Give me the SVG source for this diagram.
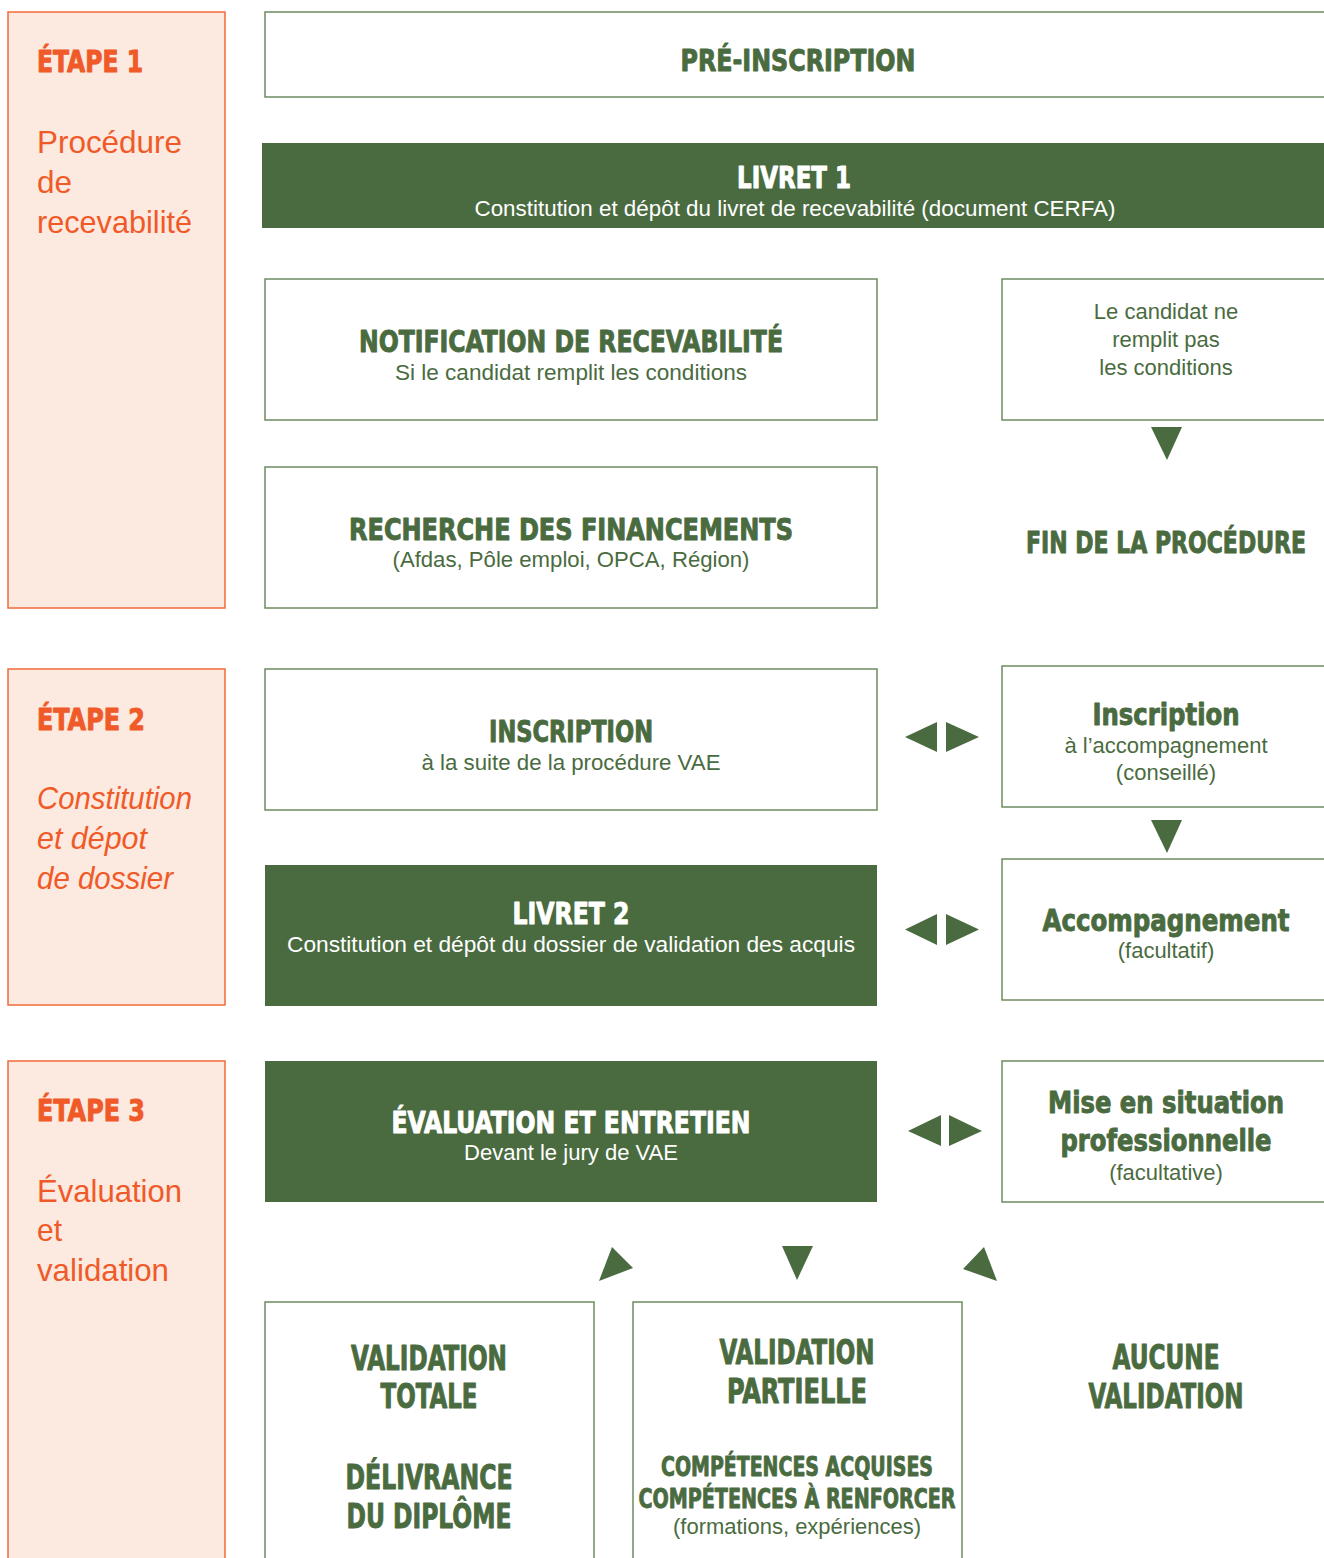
<svg xmlns="http://www.w3.org/2000/svg" width="1324" height="1558" viewBox="0 0 1324 1558">
<style>
.stage{fill:#FCE9DF;stroke:#F26A3B;stroke-width:1.5}
.box{fill:#FFFFFF;stroke:#6C8C62;stroke-width:1.5}
.dark{fill:#4A6B40;stroke:none}
.tri{fill:#4A6B40}
.h{font-family:"Liberation Sans Narrow","DejaVu Sans Condensed","DejaVu Sans",sans-serif;font-weight:bold;text-anchor:middle;fill:#4A6B40;stroke:#4A6B40;stroke-width:0.9;stroke-linejoin:round}
.hw{fill:#FFFFFF;stroke:#FFFFFF}
.b{font-family:"Liberation Sans",Arial,sans-serif;font-size:22px;text-anchor:middle;fill:#4A6B40}
.bw{fill:#FFFFFF}
.sh{font-family:"Liberation Sans Narrow","DejaVu Sans Condensed","DejaVu Sans",sans-serif;font-weight:bold;font-size:30px;fill:#F05A28;stroke:#F05A28;stroke-width:0.9;stroke-linejoin:round}
.st{font-family:"Liberation Sans",Arial,sans-serif;font-size:32px;fill:#F05A28}
.it{font-style:italic}
</style>

<g id="etape1">
<rect class="stage" x="8" y="12" width="217" height="596"/>
<text class="sh" x="37" y="72" textLength="106" lengthAdjust="spacingAndGlyphs">ÉTAPE 1</text>
<text class="st" x="37" y="153" textLength="145" lengthAdjust="spacingAndGlyphs">Procédure</text>
<text class="st" x="37" y="193" textLength="35" lengthAdjust="spacingAndGlyphs">de</text>
<text class="st" x="37" y="233" textLength="155" lengthAdjust="spacingAndGlyphs">recevabilité</text>
</g>

<g id="etape2">
<rect class="stage" x="8" y="669" width="217" height="336"/>
<text class="sh" x="37" y="730" textLength="108" lengthAdjust="spacingAndGlyphs">ÉTAPE 2</text>
<text class="st it" x="37" y="809" textLength="155" lengthAdjust="spacingAndGlyphs">Constitution</text>
<text class="st it" x="37" y="849" textLength="110" lengthAdjust="spacingAndGlyphs">et dépot</text>
<text class="st it" x="37" y="889" textLength="136" lengthAdjust="spacingAndGlyphs">de dossier</text>
</g>

<g id="etape3">
<rect class="stage" x="8" y="1061" width="217" height="510"/>
<text class="sh" x="37" y="1121" textLength="108" lengthAdjust="spacingAndGlyphs">ÉTAPE 3</text>
<text class="st" x="37" y="1202" textLength="145" lengthAdjust="spacingAndGlyphs">Évaluation</text>
<text class="st" x="37" y="1241" textLength="25" lengthAdjust="spacingAndGlyphs">et</text>
<text class="st" x="37" y="1281" textLength="132" lengthAdjust="spacingAndGlyphs">validation</text>
</g>

<g id="pre-inscription">
<rect class="box" x="265" y="12" width="1070" height="85"/>
<text class="h" x="798" y="71" font-size="30" textLength="235" lengthAdjust="spacingAndGlyphs">PRÉ-INSCRIPTION</text>
</g>

<g id="livret1">
<rect class="dark" x="262" y="143" width="1070" height="85"/>
<text class="h hw" x="794" y="188" font-size="30" textLength="114" lengthAdjust="spacingAndGlyphs">LIVRET 1</text>
<text class="b bw" x="795" y="216" textLength="641" lengthAdjust="spacingAndGlyphs">Constitution et dépôt du livret de recevabilité (document CERFA)</text>
</g>

<g id="notification">
<rect class="box" x="265" y="279" width="612" height="141"/>
<text class="h" x="571" y="352" font-size="30" textLength="424" lengthAdjust="spacingAndGlyphs">NOTIFICATION DE RECEVABILITÉ</text>
<text class="b" x="571" y="380" textLength="352" lengthAdjust="spacingAndGlyphs">Si le candidat remplit les conditions</text>
</g>

<g id="non-conditions">
<rect class="box" x="1002" y="279" width="340" height="141"/>
<text class="b" x="1166" y="319">Le candidat ne</text>
<text class="b" x="1166" y="347">remplit pas</text>
<text class="b" x="1166" y="375">les conditions</text>
</g>

<g id="recherche">
<rect class="box" x="265" y="467" width="612" height="141"/>
<text class="h" x="571" y="540" font-size="30" textLength="444" lengthAdjust="spacingAndGlyphs">RECHERCHE DES FINANCEMENTS</text>
<text class="b" x="571" y="567" textLength="357" lengthAdjust="spacingAndGlyphs">(Afdas, Pôle emploi, OPCA, Région)</text>
</g>

<g id="fin">
<text class="h" x="1166" y="553" font-size="30" textLength="280" lengthAdjust="spacingAndGlyphs">FIN DE LA PROCÉDURE</text>
</g>

<g id="inscription">
<rect class="box" x="265" y="669" width="612" height="141"/>
<text class="h" x="571" y="742" font-size="30" textLength="164" lengthAdjust="spacingAndGlyphs">INSCRIPTION</text>
<text class="b" x="571" y="770" textLength="299" lengthAdjust="spacingAndGlyphs">à la suite de la procédure VAE</text>
</g>

<g id="inscription-accompagnement">
<rect class="box" x="1002" y="666" width="340" height="141"/>
<text class="h" x="1166" y="725" font-size="31" textLength="147" lengthAdjust="spacingAndGlyphs">Inscription</text>
<text class="b" x="1166" y="753">à l’accompagnement</text>
<text class="b" x="1166" y="780">(conseillé)</text>
</g>

<g id="livret2">
<rect class="dark" x="265" y="865" width="612" height="141"/>
<text class="h hw" x="571" y="924" font-size="30" textLength="117" lengthAdjust="spacingAndGlyphs">LIVRET 2</text>
<text class="b bw" x="571" y="952" textLength="568" lengthAdjust="spacingAndGlyphs">Constitution et dépôt du dossier de validation des acquis</text>
</g>

<g id="accompagnement">
<rect class="box" x="1002" y="859" width="340" height="141"/>
<text class="h" x="1166" y="931" font-size="31" textLength="247" lengthAdjust="spacingAndGlyphs">Accompagnement</text>
<text class="b" x="1166" y="958">(facultatif)</text>
</g>

<g id="evaluation">
<rect class="dark" x="265" y="1061" width="612" height="141"/>
<text class="h hw" x="571" y="1133" font-size="30" textLength="359" lengthAdjust="spacingAndGlyphs">ÉVALUATION ET ENTRETIEN</text>
<text class="b bw" x="571" y="1160" textLength="214" lengthAdjust="spacingAndGlyphs">Devant le jury de VAE</text>
</g>

<g id="mise-en-situation">
<rect class="box" x="1002" y="1061" width="340" height="141"/>
<text class="h" x="1166" y="1113" font-size="31" textLength="236" lengthAdjust="spacingAndGlyphs">Mise en situation</text>
<text class="h" x="1166" y="1151" font-size="31" textLength="211" lengthAdjust="spacingAndGlyphs">professionnelle</text>
<text class="b" x="1166" y="1180">(facultative)</text>
</g>

<g id="validation-totale">
<rect class="box" x="265" y="1302" width="329" height="270"/>
<text class="h" x="429" y="1370" font-size="33" textLength="156" lengthAdjust="spacingAndGlyphs">VALIDATION</text>
<text class="h" x="429" y="1408" font-size="33" textLength="97" lengthAdjust="spacingAndGlyphs">TOTALE</text>
<text class="h" x="429" y="1489" font-size="33" textLength="167" lengthAdjust="spacingAndGlyphs">DÉLIVRANCE</text>
<text class="h" x="429" y="1528" font-size="33" textLength="165" lengthAdjust="spacingAndGlyphs">DU DIPLÔME</text>
</g>

<g id="validation-partielle">
<rect class="box" x="633" y="1302" width="329" height="270"/>
<text class="h" x="797" y="1364" font-size="33" textLength="155" lengthAdjust="spacingAndGlyphs">VALIDATION</text>
<text class="h" x="797" y="1403" font-size="33" textLength="140" lengthAdjust="spacingAndGlyphs">PARTIELLE</text>
<text class="h" x="797" y="1476" font-size="27" textLength="272" lengthAdjust="spacingAndGlyphs">COMPÉTENCES ACQUISES</text>
<text class="h" x="797" y="1508" font-size="27" textLength="317" lengthAdjust="spacingAndGlyphs">COMPÉTENCES À RENFORCER</text>
<text class="b" x="797" y="1534" textLength="248" lengthAdjust="spacingAndGlyphs">(formations, expériences)</text>
</g>

<g id="aucune-validation">
<text class="h" x="1166" y="1369" font-size="33" textLength="107" lengthAdjust="spacingAndGlyphs">AUCUNE</text>
<text class="h" x="1166" y="1408" font-size="33" textLength="155" lengthAdjust="spacingAndGlyphs">VALIDATION</text>
</g>

<g id="connectors">
<polygon class="tri" points="1151,427 1182,427 1167,460"/>
<polygon class="tri" points="905,737 937,722 937,752"/>
<polygon class="tri" points="946,722 946,752 979,737"/>
<polygon class="tri" points="1151,820 1182,820 1167,853"/>
<polygon class="tri" points="905,929.5 937,914 937,945"/>
<polygon class="tri" points="946,914 946,945 979,929.5"/>
<polygon class="tri" points="908,1131 941,1115 941,1146"/>
<polygon class="tri" points="949,1115 949,1146 982,1131"/>
<polygon class="tri" points="599,1281 612,1247 633,1268"/>
<polygon class="tri" points="782,1246 813,1246 797,1280"/>
<polygon class="tri" points="984,1247 963,1269 997,1281"/>
</g>
</svg>
